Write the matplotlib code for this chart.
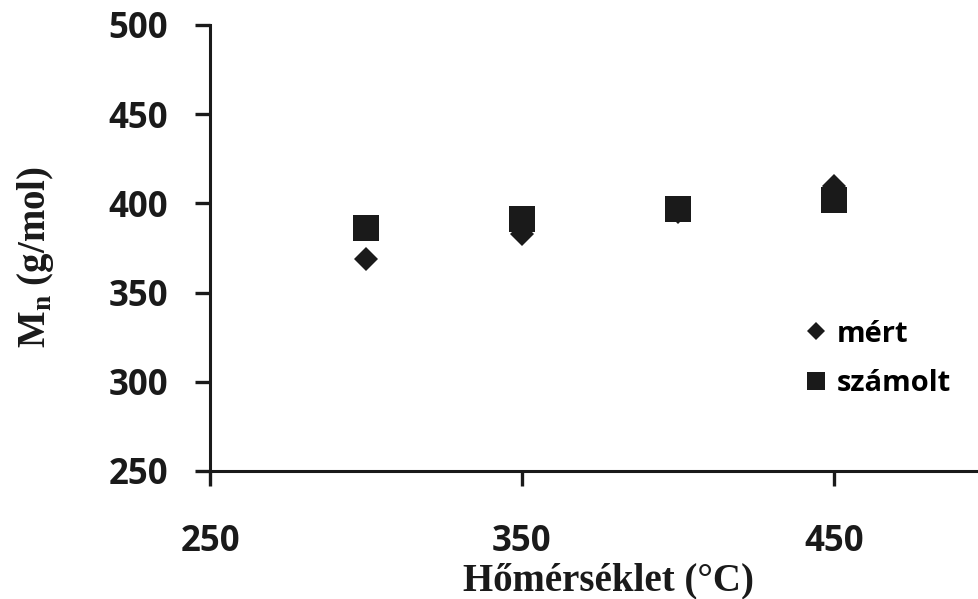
"""Number-average molar mass vs. temperature: measured and calculated."""

import matplotlib
matplotlib.use("Agg")
import matplotlib.pyplot as plt

temperature = [300, 350, 400, 450]
mn_measured = [369, 383, 395, 410]
mn_calculated = [386, 391, 397, 402]

x_ticks = [250, 350, 450]
y_ticks = [250, 300, 350, 400, 450, 500]

INK = "#1a1a1a"

plt.rcParams["mathtext.fontset"] = "custom"
plt.rcParams["mathtext.rm"] = "Liberation Serif:bold"
plt.rcParams["mathtext.bf"] = "Liberation Serif:bold"

fig = plt.figure(figsize=(9.79, 5.99), dpi=100)
ax = fig.add_axes([210 / 979, 128 / 599, 769 / 979, 446 / 599])

ax.plot(temperature, mn_measured, linestyle="none", marker="D",
        markersize=12.5, color=INK, markeredgewidth=0, label="mért")
ax.plot(temperature, mn_calculated, linestyle="none", marker="s",
        markersize=19, color=INK, markeredgewidth=0, label="számolt")

ax.set_xlim(250, 496.5)
ax.set_ylim(250, 500)
ax.set_xticks(x_ticks)
ax.set_yticks(y_ticks)

for side in ("top", "right"):
    ax.spines[side].set_visible(False)
for side in ("left", "bottom"):
    ax.spines[side].set_linewidth(2.2)
    ax.spines[side].set_color(INK)

tick_font = {"family": "Open Sans", "weight": "bold", "size": 25}
ax.set_xticklabels([str(t) for t in x_ticks], fontdict=tick_font, color=INK)
ax.set_yticklabels([str(t) for t in y_ticks], fontdict=tick_font, color=INK)
ax.tick_params(axis="both", direction="out", length=11, width=2.4, color=INK)
ax.tick_params(axis="y", pad=19)
ax.tick_params(axis="x", pad=27)

label_font = {"family": "Liberation Serif", "weight": "bold", "size": 28}
ax.set_xlabel("Hőmérséklet (°C)", fontdict=label_font, color=INK)
ax.xaxis.set_label_coords(0.518, -0.205)
ax.set_ylabel(r"M$_{\mathbf{n}}$ (g/mol)", fontdict=label_font, color=INK)
ax.yaxis.set_label_coords(-0.2, 0.48)

ax.legend(loc="upper left", bbox_to_anchor=(790 / 979, 1 - 305 / 599),
          bbox_transform=fig.transFigure, frameon=False, markerscale=0.7,
          handlelength=0.8, handletextpad=0.3, labelspacing=0.7,
          borderpad=0, prop={"family": "Open Sans", "weight": "bold", "size": 21})

fig.savefig("out.png", dpi=100)
